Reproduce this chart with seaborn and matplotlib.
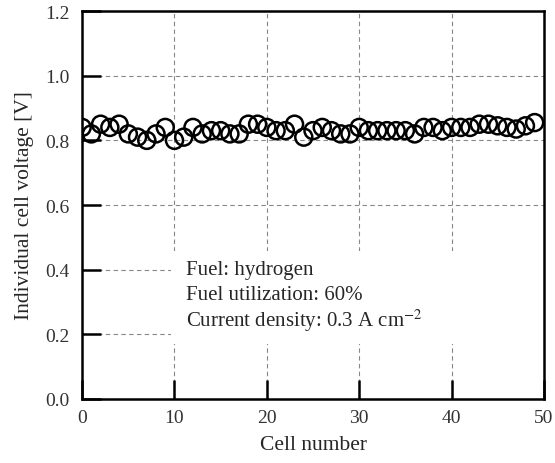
import numpy as np
import pandas as pd
import matplotlib
matplotlib.use("Agg")
import matplotlib.pyplot as plt
import seaborn as sns
from matplotlib.patches import Rectangle

# Cell voltages
cell_number = list(range(50))
cell_voltage = [0.84, 0.82, 0.85, 0.84, 0.85, 0.82, 0.81, 0.80, 0.82, 0.84,
                0.80, 0.81, 0.84, 0.82, 0.83, 0.83, 0.82, 0.82, 0.85, 0.85,
                0.84, 0.83, 0.83, 0.85, 0.81, 0.83, 0.84, 0.83, 0.82, 0.82,
                0.84, 0.83, 0.83, 0.83, 0.83, 0.83, 0.82, 0.84, 0.84, 0.83,
                0.84, 0.84, 0.84, 0.85, 0.85, 0.845, 0.84, 0.835, 0.845, 0.855]
x_ticks = [0, 10, 20, 30, 40, 50]
y_ticks = [0.0, 0.2, 0.4, 0.6, 0.8, 1.0, 1.2]
note_lines = ["Fuel: hydrogen", "Fuel utilization: 60%",
              "Current density: 0.3 A cm$^{-2}$"]

df = pd.DataFrame({"cell": cell_number, "voltage": cell_voltage})

sns.set_style("white")
plt.rcParams["font.family"] = ["Liberation Serif", "DejaVu Serif"]
plt.rcParams["mathtext.fontset"] = "stix"

fig = plt.figure(figsize=(5.55, 4.64), dpi=100)
ax = fig.add_axes([0.148, 0.138, 0.832, 0.836])

ax.set_axisbelow(True)
ax.grid(True, linestyle=(0, (4, 3)), color="#888888", linewidth=0.8)

# white patch that hides the grid behind the annotation
ax.add_patch(Rectangle((0.192, 0.142), 0.808, 0.24, transform=ax.transAxes,
                       facecolor="white", edgecolor="none", zorder=1))

sns.scatterplot(data=df, x="cell", y="voltage", ax=ax, marker="o", s=150,
                facecolor="none", edgecolor="black", linewidth=1.8, zorder=3)

ax.set_xlim(0, 50)
ax.set_ylim(0, 1.2)
ax.set_xticks(x_ticks)
ax.set_yticks(y_ticks)
ax.set_yticklabels([f"{v:.1f}" for v in y_ticks])
ax.tick_params(direction="in", length=14, width=1.8, labelsize=14,
               colors="black", labelcolor="#333333",
               bottom=True, left=True, top=False, right=False)
ax.tick_params(axis="x", pad=7)
ax.tick_params(axis="y", pad=9)
for sp in ax.spines.values():
    sp.set_linewidth(1.8)
    sp.set_color("black")

ax.set_xlabel("Cell number", fontsize=15.5, labelpad=7)
ax.set_ylabel("Individual cell voltage [V]", fontsize=15.5, labelpad=8)

for i, line in enumerate(note_lines):
    ax.text(11.3, 0.40 - i * 0.078, line, fontsize=15, va="center",
            ha="left", zorder=4)

fig.savefig("out.png", dpi=100)
